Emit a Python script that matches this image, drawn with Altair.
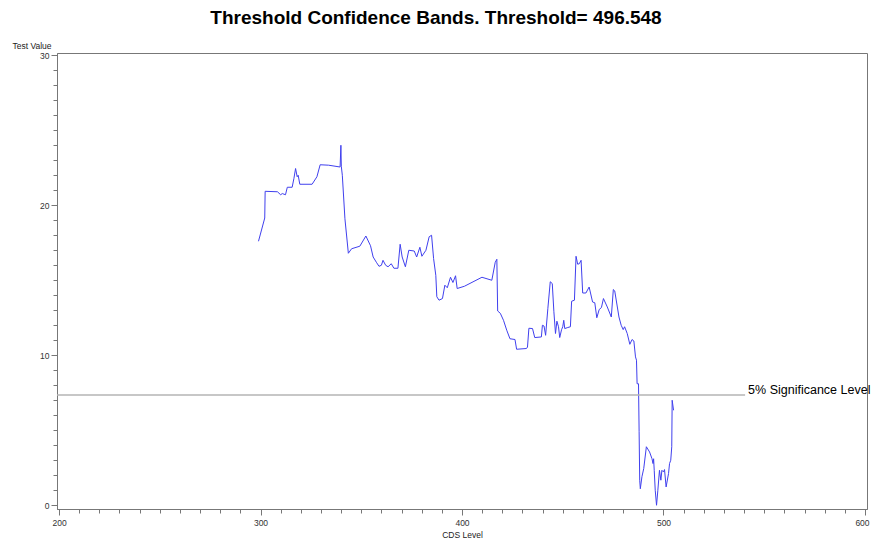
import altair as alt
import pandas as pd

title_text = "Threshold Confidence Bands. Threshold= 496.548"
x_title = "CDS Level"
y_title = "Test Value"
sig_level = 7.35
sig_label = "5% Significance Level"
sig_line_start = 199.0
sig_line_end = 540.5
label_x = 542.0

cds_level = [
    299.0, 302.1, 302.3, 308.4, 310.0, 310.8, 312.4, 313.3, 315.7, 316.6,
    317.4, 318.2, 318.7, 319.5, 325.6, 328.0, 329.6, 333.8, 339.5, 339.9,
    340.1, 340.6, 341.9, 343.6, 345.2, 349.3, 352.3, 354.6, 355.9, 357.5,
    358.8, 360.0, 360.8, 362.1, 363.3, 364.9, 366.2, 368.2, 369.3, 370.3,
    371.9, 373.6, 376.3, 377.5, 379.1, 380.1, 382.1, 383.7, 384.9, 385.9,
    387.0, 387.5, 388.6, 390.3, 391.5, 392.7, 394.3, 395.5, 396.8, 397.6,
    401.2, 409.9, 414.8, 416.5, 417.3, 417.7, 419.0, 420.6, 422.2, 423.8,
    426.3, 427.1, 432.0, 432.5, 433.2, 435.0, 436.1, 439.4, 439.9, 440.7,
    441.5, 442.6, 443.8, 444.8, 445.6, 446.4, 447.1, 447.9, 448.5, 449.4,
    450.0, 450.5, 451.0, 452.5, 453.8, 454.4, 455.8, 456.6, 457.4, 458.2,
    459.1, 459.9, 461.5, 463.1, 464.8, 465.9, 466.9, 468.1, 469.2, 470.2,
    472.1, 474.1, 475.1, 475.8, 477.9, 479.0, 480.0, 480.7, 482.0, 483.3,
    484.4, 485.3, 486.1, 486.6, 486.9, 487.6, 487.9, 488.2, 488.5, 489.3,
    490.2, 491.5, 493.1, 494.3, 494.8, 495.1, 495.4, 495.9, 496.548, 497.2,
    498.0, 498.7, 499.2, 500.0, 500.5, 501.3, 502.5, 503.0, 503.6, 504.1,
    504.3, 505.0,
]
test_value = [
    17.6, 19.15, 20.93, 20.9, 20.7, 20.78, 20.7, 21.2, 21.2, 21.8,
    22.45, 21.9, 22.0, 21.4, 21.4, 21.9, 22.7, 22.67, 22.55, 24.0,
    22.6, 22.0, 19.1, 16.8, 17.1, 17.27, 17.95, 17.3, 16.55, 16.2,
    15.93, 16.0, 16.33, 16.0, 15.9, 16.1, 15.8, 15.8, 17.4, 16.55,
    15.9, 17.0, 16.95, 16.55, 17.2, 16.6, 17.0, 17.9, 18.0, 16.45,
    15.33, 13.9, 13.67, 13.78, 14.67, 14.5, 15.2, 14.85, 15.3, 14.45,
    14.6, 15.2, 15.0, 16.2, 16.4, 12.95, 12.8, 12.33, 11.67, 11.1,
    11.05, 10.4, 10.45, 10.55, 11.8, 11.78, 11.18, 11.22, 12.0, 11.95,
    11.33, 13.1, 14.9, 14.78, 12.9, 11.45, 12.27, 11.9, 11.18, 11.7,
    11.9, 12.33, 11.78, 11.85, 11.9, 13.6, 13.67, 16.6, 16.07, 16.1,
    16.33, 14.15, 14.15, 14.55, 13.55, 13.5, 12.5, 13.05, 13.18, 13.78,
    13.22, 12.55, 14.38, 14.29, 12.55, 12.0, 11.71, 11.9, 11.45, 10.73,
    11.05, 10.95, 9.89, 9.67, 8.1, 8.1, 4.9, 1.67, 1.1, 1.9,
    2.45, 3.9, 3.55, 3.1, 2.78, 3.1, 2.33, 1.0, 0.0, 1.0,
    2.33, 1.67, 2.33, 2.22, 2.38, 1.22, 2.11, 2.78, 3.0, 3.9,
    7.0, 6.33,
]

x_ticks = list(range(200, 601, 10))
y_ticks = list(range(0, 31, 1))

df = pd.DataFrame({"cds": cds_level, "tv": test_value, "order": list(range(len(cds_level)))})
sig_df = pd.DataFrame({
    "x1": [sig_line_start], "x2": [sig_line_end], "y": [sig_level],
    "lx": [label_x], "label": [sig_label],
})

x_scale = alt.Scale(domain=[199, 601], nice=False, zero=False)
y_scale = alt.Scale(domain=[-0.25, 30.15], nice=False, zero=False)

x_axis = alt.Axis(
    title=x_title,
    values=x_ticks,
    tickCount=200,
    format="d",
    labelExpr="datum.value % 100 === 0 ? datum.label : ''",
    tickSize={"condition": {"test": "datum.value % 100 === 0", "value": 6}, "value": 4},
    labelOffset={"condition": {"test": "datum.value === 600", "value": -3}, "value": 0},
    labelOverlap=False,
    labelFlush=False,
    grid=False,
    labelPadding=3,
    titlePadding=4,
)
y_axis = alt.Axis(
    title=y_title,
    values=y_ticks,
    tickCount=200,
    format="d",
    labelExpr="datum.value % 10 === 0 ? datum.label : ''",
    tickSize={"condition": {"test": "datum.value % 10 === 0", "value": 6}, "value": 4},
    labelOverlap=False,
    labelFlush=False,
    grid=False,
    labelPadding=2,
    titleAngle=0,
    titleAlign="right",
    titleBaseline="middle",
    titleX=-6,
    titleY=-8,
)

line = alt.Chart(df).mark_line(color="#4040ee", strokeWidth=1).encode(
    x=alt.X("cds:Q", scale=x_scale, axis=x_axis),
    y=alt.Y("tv:Q", scale=y_scale, axis=y_axis),
    order="order:Q",
)

rule = alt.Chart(sig_df).mark_rule(color="#b4b4b4", strokeWidth=1.5).encode(
    x=alt.X("x1:Q"),
    x2=alt.X2("x2"),
    y=alt.Y("y:Q"),
)

label = alt.Chart(sig_df).mark_text(
    align="left", baseline="alphabetic", dy=-1, fontSize=12.5, font="Liberation Sans", color="#000000"
).encode(
    x=alt.X("lx:Q"),
    y=alt.Y("y:Q"),
    text="label:N",
)

chart = alt.layer(line, rule, label).properties(
    width=810,
    height=456,
    autosize=alt.AutoSizeParams(type="none"),
    padding={"left": 49, "top": 45, "right": 4, "bottom": 31},
    title=alt.TitleParams(
        text=title_text,
        fontSize=19,
        font="Liberation Sans",
        fontWeight="bold",
        anchor="middle",
        frame="group",
        baseline="alphabetic",
        offset=-2,
        dx=-26,
        color="#000000",
    ),
).configure_view(
    stroke="#777777", strokeWidth=1
).configure_axis(
    domainColor="#777777",
    tickColor="#777777",
    labelColor="#333333",
    labelFont="Liberation Sans",
    labelFontSize=8.5,
    titleFont="Liberation Sans",
    titleFontSize=8.5,
    titleFontWeight="normal",
    titleColor="#222222",
)

chart.save("out.html", embed_options={"renderer": "svg", "actions": False})
